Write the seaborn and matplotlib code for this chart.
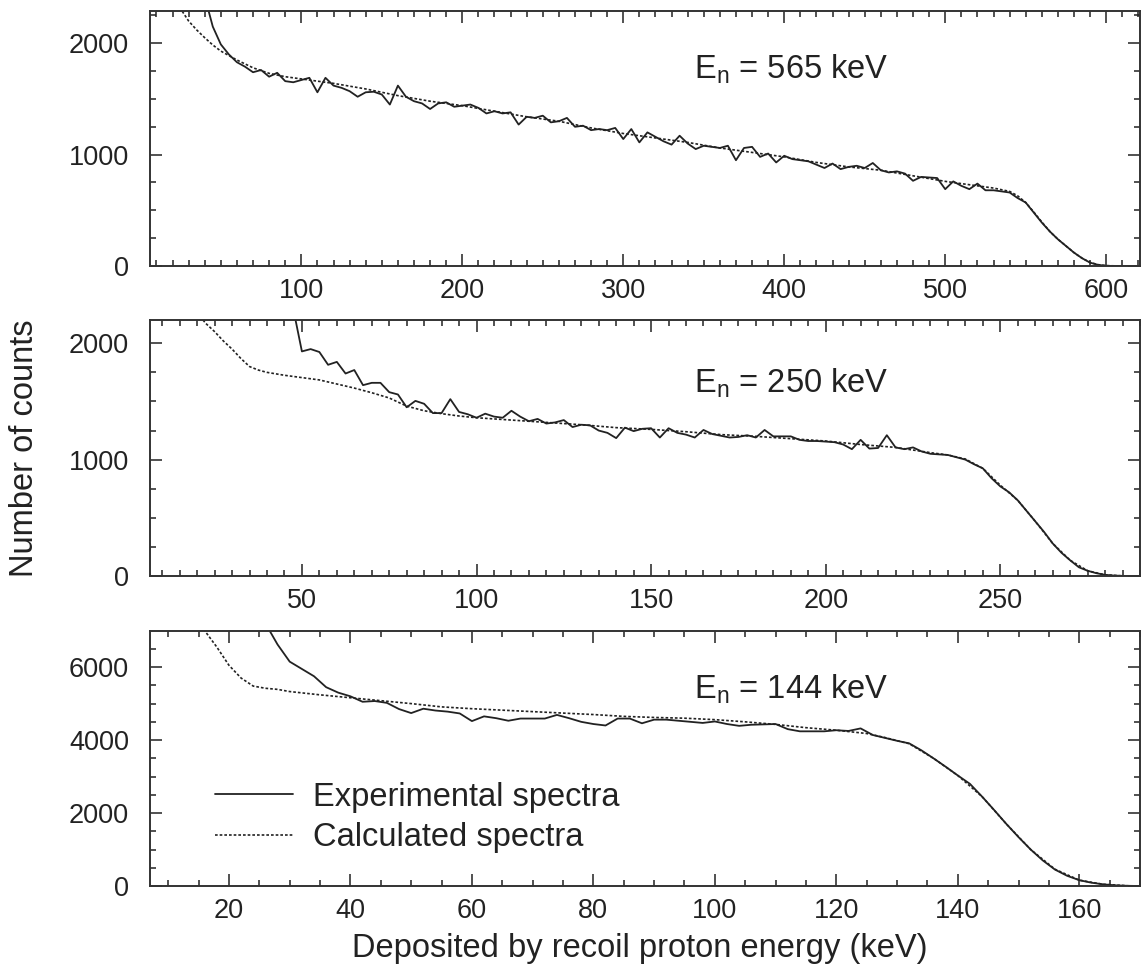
import numpy as np
import pandas as pd
import matplotlib
matplotlib.use("Agg")
import matplotlib.pyplot as plt
from matplotlib.ticker import MultipleLocator
import seaborn as sns

# ---------------- data ----------------
# Panel 1: En = 565 keV
e565_exp_x = list(range(40, 625, 5))
e565_exp_y = [2420, 2150, 1990, 1900, 1830, 1790, 1740, 1760, 1700, 1735,
              1660, 1650, 1670, 1690, 1560, 1690, 1620, 1600, 1570, 1520,
              1560, 1565, 1540, 1450, 1620, 1520, 1480, 1460, 1410, 1460,
              1470, 1430, 1440, 1450, 1420, 1370, 1390, 1370, 1380, 1270,
              1340, 1330, 1350, 1290, 1300, 1330, 1250, 1260, 1220, 1230,
              1220, 1240, 1140, 1230, 1110, 1200, 1160, 1120, 1090, 1170,
              1100, 1050, 1080, 1070, 1060, 1080, 950, 1060, 1070, 980,
              1010, 930, 990, 960, 950, 940, 910, 880, 920, 870,
              890, 900, 880, 925, 860, 840, 850, 830, 765, 800,
              795, 790, 690, 760, 720, 690, 740, 680, 680, 670,
              660, 610, 570, 480, 390, 310, 240, 180, 120, 70,
              30, 10, 2, 0, 0, 0, 0]
e565_calc_x = [20, 25, 30, 35, 40, 45, 50, 55, 60, 70, 80, 90, 100, 120, 140,
               160, 180, 200, 220, 240, 260, 280, 300, 320, 340, 360, 380,
               400, 420, 440, 460, 480, 500, 520, 530, 540, 545, 550, 555,
               560, 565, 570, 575, 580, 585, 590, 595, 600, 610, 620]
e565_calc_y = [2450, 2310, 2200, 2120, 2050, 1985, 1930, 1890, 1850, 1780,
               1730, 1700, 1680, 1640, 1590, 1530, 1480, 1440, 1390, 1340,
               1300, 1240, 1190, 1150, 1110, 1060, 1020, 980, 930, 890, 860,
               810, 760, 720, 700, 670, 630, 570, 485, 395, 310, 240, 180,
               120, 70, 32, 12, 3, 0, 0]

# Panel 2: En = 250 keV
e250_exp_x = list(np.arange(47.5, 290.1, 2.5))
e250_exp_y = [2300, 1930, 1950, 1925, 1815, 1840, 1740, 1770, 1640, 1660,
              1660, 1580, 1560, 1450, 1505, 1480, 1400, 1400, 1520, 1410,
              1390, 1360, 1395, 1370, 1360, 1420, 1370, 1330, 1350, 1310,
              1320, 1340, 1280, 1300, 1295, 1250, 1230, 1185, 1275, 1245,
              1265, 1270, 1190, 1270, 1230, 1215, 1190, 1255, 1220, 1205,
              1190, 1195, 1210, 1190, 1255, 1200, 1200, 1200, 1170, 1160,
              1160, 1155, 1150, 1130, 1090, 1170, 1095, 1100, 1210, 1105,
              1090, 1105, 1070, 1050, 1045, 1040, 1020, 1000, 960, 925,
              840, 770, 720, 650, 560, 470, 380, 280, 200, 135,
              75, 45, 24, 10, 4, 1, 0, 0]
e250_calc_x = [15, 20, 22.5, 25, 27.5, 30, 32.5, 35, 37.5, 40, 45, 50, 55, 60,
               65, 70, 75, 80, 85, 90, 95, 100, 110, 120, 130, 140, 150, 160,
               170, 180, 190, 200, 210, 220, 230, 235, 240, 245, 250, 255,
               260, 265, 270, 275, 280, 285, 290]
e250_calc_y = [2450, 2260, 2170, 2100, 2020, 1950, 1870, 1800, 1770, 1750,
               1725, 1705, 1685, 1650, 1615, 1575, 1530, 1460, 1420, 1395,
               1375, 1360, 1340, 1320, 1300, 1275, 1260, 1240, 1215, 1200,
               1180, 1160, 1130, 1105, 1060, 1040, 1005, 925, 780, 650,
               470, 280, 135, 45, 10, 1, 0]

# Panel 3: En = 144 keV
e144_exp_x = list(range(26, 171, 2))
e144_exp_y = [7200, 6620, 6150, 5950, 5750, 5450, 5300, 5200, 5050, 5070,
              5020, 4850, 4740, 4860, 4810, 4780, 4730, 4520, 4650, 4600,
              4530, 4590, 4590, 4590, 4690, 4600, 4500, 4440, 4400, 4590,
              4590, 4460, 4560, 4560, 4530, 4500, 4470, 4510, 4440, 4390,
              4420, 4430, 4440, 4300, 4240, 4240, 4240, 4270, 4250, 4320,
              4140, 4060, 3980, 3910, 3720, 3500, 3270, 3030, 2800, 2450,
              2080, 1700, 1340, 1000, 700, 450, 280, 160, 90, 45,
              18, 5, 0]
e144_calc_x = [14, 16, 18, 20, 22, 24, 26, 28, 30, 35, 40, 45, 50, 55, 60, 65,
               70, 75, 80, 85, 90, 95, 100, 105, 110, 115, 120, 125, 128,
               132, 136, 140, 144, 148, 152, 156, 160, 164, 168, 170]
e144_calc_y = [7600, 7000, 6550, 6050, 5700, 5480, 5420, 5390, 5330, 5240,
               5160, 5080, 5000, 4910, 4860, 4820, 4780, 4740, 4700, 4650,
               4620, 4600, 4560, 4500, 4430, 4340, 4270, 4180, 4070, 3900,
               3500, 3030, 2450, 1700, 1000, 460, 160, 45, 6, 0]

panel_labels = ["565", "250", "144"]
x_limits = [(6, 621), (6.5, 290), (7, 170)]
y_limits = [(0, 2290), (0, 2200), (0, 6990)]
x_major = [100, 50, 20]
x_minor = [10, 5, 5]
y_major = [1000, 1000, 2000]
y_minor = [250, 250, 500]

# ---------------- style ----------------
sns.set_theme(style="ticks")
plt.rcParams["font.family"] = ["Liberation Sans", "DejaVu Sans"]
plt.rcParams["mathtext.default"] = "regular"
ink = "#222222"

fig = plt.figure(figsize=(11.42, 9.64), dpi=100)
positions = [
    [150 / 1142, 1 - 266 / 964, 990 / 1142, 255 / 964],
    [150 / 1142, 1 - 576 / 964, 990 / 1142, 256 / 964],
    [150 / 1142, 1 - 886 / 964, 990 / 1142, 255 / 964],
]
datasets = [
    (e565_exp_x, e565_exp_y, e565_calc_x, e565_calc_y),
    (e250_exp_x, e250_exp_y, e250_calc_x, e250_calc_y),
    (e144_exp_x, e144_exp_y, e144_calc_x, e144_calc_y),
]
text_pos = [(0.55, 0.77), (0.55, 0.754), (0.55, 0.77)]

for i, (pos, (ex, ey, cx, cy)) in enumerate(zip(positions, datasets)):
    ax = fig.add_axes(pos)
    dexp = pd.DataFrame({"x": ex, "y": ey})
    dcal = pd.DataFrame({"x": cx, "y": cy})
    sns.lineplot(data=dexp, x="x", y="y", ax=ax, color=ink, lw=1.3,
                 label="Experimental spectra", legend=False)
    sns.lineplot(data=dcal, x="x", y="y", ax=ax, color=ink, lw=1.2,
                 linestyle=(0, (1.6, 1.2)), label="Calculated spectra",
                 legend=False)
    ax.set_xlim(*x_limits[i])
    ax.set_ylim(*y_limits[i])
    ax.xaxis.set_major_locator(MultipleLocator(x_major[i]))
    ax.xaxis.set_minor_locator(MultipleLocator(x_minor[i]))
    ax.yaxis.set_major_locator(MultipleLocator(y_major[i]))
    ax.yaxis.set_minor_locator(MultipleLocator(y_minor[i]))
    ax.tick_params(which="both", direction="in", top=True, right=True,
                   color=ink, width=1.1)
    ax.tick_params(which="major", length=8.5, labelsize=19.5,
                   labelcolor=ink)
    ax.tick_params(axis="y", which="major", pad=15)
    ax.tick_params(axis="x", which="major", pad=9)
    ax.tick_params(which="minor", length=4.3)
    for sp in ax.spines.values():
        sp.set_color("#333333")
        sp.set_linewidth(1.4)
    ax.set_xlabel("")
    ax.set_ylabel("")
    ax.text(text_pos[i][0], text_pos[i][1],
            r"$\mathregular{E_n}$ = " + panel_labels[i] + " keV",
            transform=ax.transAxes, fontsize=23.5, color=ink,
            ha="left", va="center")
    if i == 2:
        ax.legend(loc="center left", bbox_to_anchor=(0.0657, 0.269),
                  frameon=False, fontsize=23.5, handlelength=2.4,
                  handletextpad=0.6, labelspacing=0.28, borderpad=0,
                  borderaxespad=0, labelcolor=ink)

fig.text(25 / 1142, 1 - 448 / 964, "Number of counts", rotation=90,
         ha="center", va="center", fontsize=23.5, color=ink)
fig.text(640 / 1142, 1 - 957 / 964,
         "Deposited by recoil proton energy (keV)",
         ha="center", va="baseline", fontsize=23.5, color=ink)

fig.savefig("out.png", dpi=100)
